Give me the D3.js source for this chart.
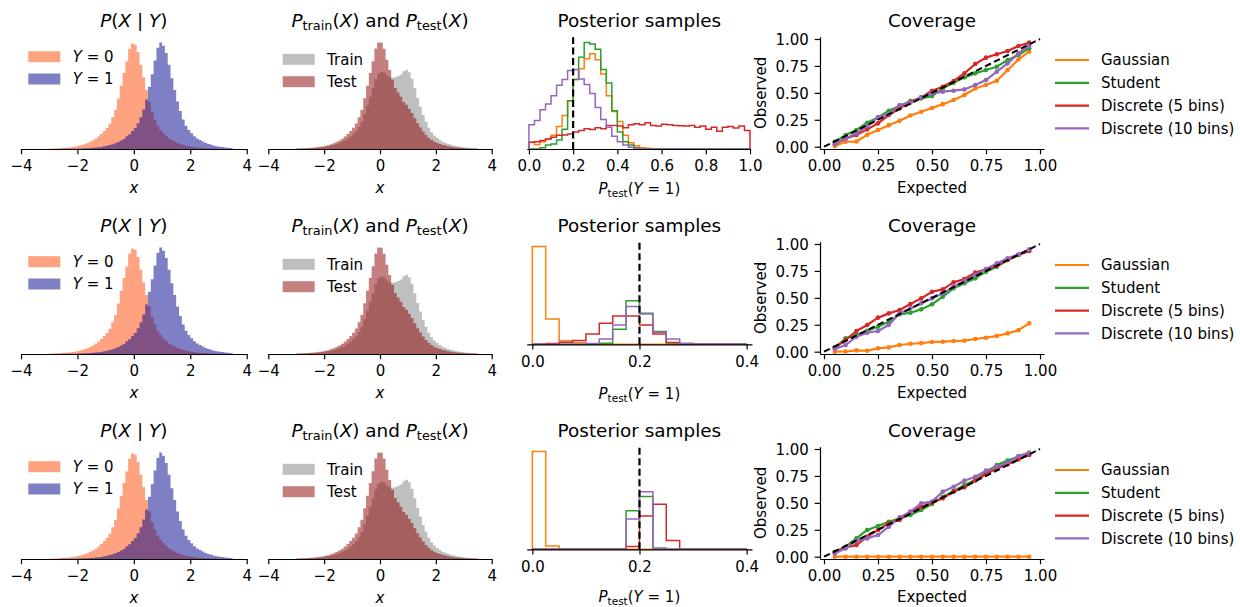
<!DOCTYPE html>
<html>
<head>
<meta charset="utf-8">
<script src="https://cdn.jsdelivr.net/npm/d3@7"></script>
<style>
  body { margin: 0; background: #fff; }
  text { font-family: 'DejaVu Sans', sans-serif; fill: #000; white-space: pre; }
</style>
</head>
<body>
<svg id="fig" width="1240" height="607"></svg>
<script>
// ---------------- data ----------------
// Feature histograms: bins of width 0.1 starting at x = -3.0 (heights relative to the tallest bar)
const featureBinStart = -3.0;
const featureBinWidth = 0.1;
const densityY0 = [
  0.004,0.005,0.006,0.008,0.009,0.011,0.013,0.016,0.020,0.024,
  0.030,0.036,0.044,0.055,0.066,0.080,0.097,0.118,0.142,0.170,
  0.20,0.24,0.30,0.37,0.48,0.60,0.72,0.83,0.95,1.00,
  0.99,0.92,0.80,0.68,0.56,0.45,0.35,0.28,0.22,0.18,
  0.15,0.125,0.10,0.085,0.07,0.058,0.048,0.04,0.033,0.027,
  0.022,0.018,0.015,0.012,0.010,0.008,0.006,0.005,0.004,0.003,
  0.002,0.002,0.001,0.001,0.001];
const densityY1 = [
  0.001,0.001,0.001,0.001,0.002,0.002,0.002,0.002,0.003,0.003,
  0.004,0.005,0.006,0.007,0.009,0.011,0.014,0.016,0.020,0.025,
  0.031,0.037,0.045,0.054,0.067,0.081,0.096,0.12,0.14,0.17,
  0.20,0.245,0.30,0.375,0.47,0.59,0.71,0.84,0.96,1.01,
  0.98,0.91,0.80,0.67,0.56,0.45,0.36,0.28,0.22,0.18,
  0.15,0.12,0.10,0.085,0.07,0.057,0.047,0.04,0.032,0.027,
  0.022,0.018,0.014,0.012,0.010];
const densityTrain = [
  0.003,0.004,0.004,0.005,0.007,0.008,0.009,0.011,0.014,0.016,
  0.020,0.025,0.030,0.037,0.045,0.055,0.067,0.080,0.097,0.117,
  0.139,0.166,0.207,0.254,0.328,0.409,0.490,0.570,0.654,0.71,
  0.725,0.72,0.69,0.675,0.67,0.675,0.685,0.70,0.73,0.745,
  0.72,0.66,0.57,0.48,0.40,0.32,0.255,0.20,0.158,0.127,
  0.104,0.084,0.069,0.058,0.048,0.039,0.032,0.027,0.022,0.018,
  0.014,0.012,0.009,0.008,0.007];
const densityTest = [
  0.004,0.005,0.006,0.008,0.009,0.011,0.013,0.016,0.020,0.024,
  0.030,0.036,0.044,0.054,0.066,0.079,0.096,0.117,0.141,0.169,
  0.199,0.239,0.299,0.368,0.476,0.595,0.714,0.825,0.945,1.00,
  0.997,0.941,0.839,0.742,0.650,0.573,0.53,0.49,0.441,0.415,
  0.379,0.338,0.288,0.242,0.201,0.164,0.132,0.105,0.084,0.069,
  0.057,0.046,0.038,0.032,0.027,0.021,0.017,0.014,0.012,0.009,
  0.007,0.006,0.004,0.004,0.003];

// Posterior samples of P_test(Y=1): density per bin of width 0.025 starting at 0
const posteriorBinWidth = 0.025;
const trueShare = 0.2;
// row 1
const postGaussian1 = [0.35,0.24,0.38,0.52,0.73,1.18,1.76,2.54,3.66,4.23,4.75,5.01,4.70,3.95,2.80,1.97,1.45,0.73,0.33,0.17,0.07,0.04];
const postStudent1 = [0,0,0.07,0.21,0.26,0.47,1.04,2.54,3.66,4.83,5.60,5.53,5.25,4.18,3.47,2.02,0.90,0.38,0.21,0.07];
const postDiscrete5_1 = [0.35,0.38,0.45,0.52,0.62,0.73,0.74,0.79,0.90,0.98,1.07,1.02,1.12,1.07,1.24,1.24,1.21,1.12,1.28,1.33,
  1.28,1.38,1.24,1.21,1.30,1.28,1.24,1.23,1.21,1.24,1.14,1.21,1.04,1.14,0.93,1.14,1.19,1.10,1.21,0.98];
const postDiscrete10_1 = [1.28,1.50,2.07,2.37,2.80,3.35,3.66,4.13,4.18,3.69,3.40,2.92,2.19,1.55,1.14,0.67,0.38,0.21,0.09,0.02];
// row 2
const postGaussian2 = [32.6,8.4,1.2,0.6,0.2];
const postStudent2 = [0,0,0,0,0,0.33,5.0,14.57,10.33,4.23,0.43];
const postDiscrete5_2 = [0,0.23,0.67,1.23,3.43,7.0,9.43,9.43,6.43,3.43,0.57,0.23];
const postDiscrete10_2 = [0,0,0,0,0.23,1.77,6.43,12.57,10.1,4.0,1.77,0.23];
// row 3
const postGaussian3 = [32.6,1.1];
const postStudent3 = [0,0,0,0,0,0,0,12.9,17.6,0.33];
const postDiscrete5_3 = [0,0,0,0,0,0,0,0.9,11.1,15.0,2.9];
const postDiscrete10_3 = [0,0,0,0,0,0,0,10.1,19.2,0.33];

// Coverage: observed vs expected credible level
const expectedLevels = [0.05,0.10,0.15,0.20,0.25,0.30,0.35,0.40,0.45,0.50,0.55,0.60,0.65,0.70,0.75,0.80,0.85,0.90,0.95];
const covGaussian = [
  [0.006,0.046,0.048,0.11,0.155,0.20,0.24,0.29,0.325,0.36,0.395,0.433,0.48,0.54,0.573,0.613,0.712,0.81,0.882],
  [0.0,0.002,0.012,0.009,0.031,0.04,0.062,0.074,0.08,0.09,0.093,0.099,0.102,0.118,0.13,0.146,0.17,0.20,0.263],
  [0,0,0,0,0,0,0,0,0,0,0,0,0,0,0,0,0,0,0]];
const covStudent = [
  [0.046,0.108,0.155,0.223,0.272,0.334,0.378,0.424,0.449,0.47,0.542,0.594,0.644,0.681,0.712,0.743,0.805,0.851,0.913],
  [0.037,0.124,0.155,0.195,0.232,0.279,0.347,0.362,0.393,0.44,0.511,0.588,0.635,0.681,0.743,0.789,0.851,0.898,0.935],
  [0.046,0.093,0.17,0.248,0.285,0.325,0.356,0.387,0.433,0.489,0.557,0.61,0.666,0.712,0.78,0.851,0.892,0.929,0.96]];
const covDiscrete5 = [
  [0.025,0.077,0.108,0.161,0.217,0.294,0.356,0.418,0.458,0.52,0.557,0.61,0.681,0.768,0.827,0.858,0.889,0.935,0.966],
  [0.037,0.108,0.192,0.248,0.316,0.356,0.387,0.443,0.495,0.557,0.579,0.644,0.675,0.734,0.765,0.796,0.851,0.898,0.935],
  [0.037,0.087,0.108,0.186,0.248,0.31,0.341,0.418,0.464,0.502,0.542,0.604,0.644,0.706,0.765,0.82,0.858,0.904,0.944]];
const covDiscrete10 = [
  [0.025,0.077,0.124,0.192,0.272,0.303,0.387,0.409,0.458,0.495,0.511,0.52,0.532,0.573,0.619,0.697,0.774,0.867,0.935],
  [0.025,0.062,0.139,0.176,0.192,0.248,0.356,0.402,0.449,0.495,0.542,0.604,0.656,0.712,0.768,0.82,0.867,0.904,0.95],
  [0.031,0.077,0.149,0.17,0.201,0.279,0.365,0.418,0.495,0.511,0.604,0.65,0.706,0.743,0.799,0.836,0.873,0.935,0.966]];

const methodNames = ["Gaussian", "Student", "Discrete (5 bins)", "Discrete (10 bins)"];
const methodColors = ["#ff7f0e", "#2ca02c", "#d62728", "#9467bd"];
const featureTicks = [-4, -2, 0, 2, 4];
const posteriorTicksWide = [0, 0.2, 0.4, 0.6, 0.8, 1.0];
const posteriorTicksNarrow = [0, 0.2, 0.4];
const coverageTicks = [0, 0.25, 0.5, 0.75, 1.0];

// ---------------- drawing ----------------
const svg = d3.select("#fig");
const TICK_FS = 15, LABEL_FS = 15, TITLE_FS = 18.4, LEGEND_FS = 15;
const SPINE_W = 1.2, TICK_LEN = 5.3;
const rowOffsets = [0, 205, 410];

function richText(g, x, y, parts, fs, anchor) {
  const t = g.append("text").attr("x", x).attr("y", y)
    .attr("font-size", fs).attr("text-anchor", anchor || "middle");
  let shift = 0;
  parts.forEach(p => {
    const ts = t.append("tspan").text(p.t);
    if (p.it) ts.attr("font-style", "italic");
    const target = p.sub ? fs * 0.2 : 0;
    if (target !== shift) { ts.attr("dy", target - shift); shift = target; }
    if (p.sub) ts.attr("font-size", fs * 0.7);
  });
  return t;
}

function styleAxis(g, labelY) {
  g.attr("font-family", null).attr("font-size", null);
  g.select(".domain").attr("stroke-width", SPINE_W).attr("stroke", "#000");
  g.selectAll(".tick line").attr("stroke-width", SPINE_W).attr("stroke", "#000");
  g.selectAll(".tick text").attr("font-size", TICK_FS).attr("fill", "#000");
  if (labelY !== undefined) g.selectAll(".tick text").attr("dy", null).attr("y", labelY);
}

function stepPoints(start, width, vals, n) {
  const v = d3.range(n).map(i => vals[i] || 0);
  const pts = [[start, 0]];
  v.forEach((d, i) => pts.push([start + i * width, d]));
  pts.push([start + n * width, v[n - 1]]);
  pts.push([start + n * width, 0]);
  return pts;
}

function filledHist(g, x, y, vals, fill) {
  const pts = stepPoints(featureBinStart, featureBinWidth, vals, vals.length);
  g.append("path")
    .attr("d", d3.area().x(d => x(d[0])).y0(y(0)).y1(d => y(d[1])).curve(d3.curveStepAfter)(pts))
    .attr("fill", fill).attr("stroke", "none");
}

function featurePanel(g, x0, x1, base, seriesA, seriesB, colA, colB, title, legendA, legendB, legendCy, legendX) {
  const x = d3.scaleLinear().domain([-4, 4]).range([x0, x1]);
  const maxV = d3.max([...seriesA, ...seriesB]);
  const y = d3.scaleLinear().domain([0, maxV * 1.05]).range([base, base - 111.8]);
  filledHist(g, x, y, seriesA, colA);
  filledHist(g, x, y, seriesB, colB);
  const ax = g.append("g").attr("transform", `translate(0,${base})`)
    .call(d3.axisBottom(x).tickValues(featureTicks).tickFormat(d3.format("d")).tickSizeInner(TICK_LEN).tickSizeOuter(0));
  styleAxis(ax, 21.7);
  const cx = (x0 + x1) / 2;
  richText(g, cx, base + 43.7, [{t: "x", it: true}], LABEL_FS);
  richText(g, cx, base - 122.3, title, TITLE_FS);
  // legend: colour patch then label
  [[colA, legendA], [colB, legendB]].forEach(([c, lab], i) => {
    const cy = legendCy[i];
    g.append("rect").attr("x", legendX).attr("y", cy - 5.5).attr("width", 32).attr("height", 11).attr("fill", c);
    richText(g, legendX + 44.4, cy + 5.4, lab, LEGEND_FS, "start");
  });
}

function posteriorPanel(g, r, base, top, series) {
  const wide = r === 0;
  const x = d3.scaleLinear().domain(wide ? [-0.01, 1.0] : [-0.0105, 0.41]).range(wide ? [526.7, 750] : [526.7, 752]);
  const nBins = wide ? 40 : 16;
  const maxV = d3.max(series.flat());
  const y = d3.scaleLinear().domain([0, maxV * 1.05]).range([base, top]);
  const line = d3.line().x(d => x(d[0])).y(d => y(d[1])).curve(d3.curveStepAfter);
  series.forEach((vals, i) => {
    g.append("path").attr("d", line(stepPoints(0, posteriorBinWidth, vals, nBins)))
      .attr("fill", "none").attr("stroke", methodColors[i]).attr("stroke-width", 1.5)
      .attr("stroke-linejoin", "miter");
  });
  g.append("line").attr("x1", x(trueShare)).attr("x2", x(trueShare)).attr("y1", y(0)).attr("y2", y(maxV * 1.05))
    .attr("stroke", "#000").attr("stroke-width", 2.2).attr("stroke-dasharray", "7,3.5");
  const ax = g.append("g").attr("transform", `translate(0,${base})`)
    .call(d3.axisBottom(x).tickValues(wide ? posteriorTicksWide : posteriorTicksNarrow)
      .tickFormat(d3.format(".1f")).tickSizeInner(TICK_LEN).tickSizeOuter(0));
  styleAxis(ax, wide ? 21.7 : 23);
  const cx = 639.4;
  const off = rowOffsets[r];
  richText(g, cx, 193.5 + off - (r === 2 ? 1.5 : 0),
    [{t: "P", it: true}, {t: "test", sub: true}, {t: "("}, {t: "Y", it: true}, {t: " = 1)"}], LABEL_FS);
  richText(g, cx, 27 + off, [{t: "Posterior samples"}], TITLE_FS);
}

function coveragePanel(g, r, series) {
  const off = rowOffsets[r];
  const x = d3.scaleLinear().domain([-0.0185, 1.0185]).range([820, 1044]);
  const y = d3.scaleLinear().domain([-0.0214, 1.0214]).range([149 + off, 36.7 + off]);
  const line = d3.line().x(d => x(d[0])).y(d => y(d[1]));
  series.forEach((vals, i) => {
    const pts = expectedLevels.map((e, k) => [e, vals[k]]);
    g.append("path").attr("d", line(pts)).attr("fill", "none")
      .attr("stroke", methodColors[i]).attr("stroke-width", 2.2).attr("stroke-linejoin", "round");
    g.selectAll(null).data(pts).enter().append("circle")
      .attr("cx", d => x(d[0])).attr("cy", d => y(d[1])).attr("r", 2.3).attr("fill", methodColors[i]);
  });
  g.append("path").attr("d", line([[0, 0], [1, 1]])).attr("fill", "none")
    .attr("stroke", "#000").attr("stroke-width", 2).attr("stroke-dasharray", "6.5,3.5");
  const axX = g.append("g").attr("transform", `translate(0,${149 + off})`)
    .call(d3.axisBottom(x).tickValues(coverageTicks).tickFormat(d3.format(".2f")).tickSizeInner(TICK_LEN).tickSizeOuter(0));
  styleAxis(axX, 21.7);
  const axY = g.append("g").attr("transform", "translate(820,0)")
    .call(d3.axisLeft(y).tickValues(coverageTicks).tickFormat(d3.format(".2f")).tickSizeInner(TICK_LEN).tickPadding(5.8).tickSizeOuter(0));
  styleAxis(axY);
  axY.selectAll(".tick text").attr("dy", "0.36em");
  richText(g, 932, 193.3 + off - (r === 2 ? 1 : 0), [{t: "Expected"}], LABEL_FS);
  g.append("text").attr("transform", `translate(766,${92.9 + off}) rotate(-90)`)
    .attr("text-anchor", "middle").attr("font-size", LABEL_FS).text("Observed");
  richText(g, 932, 27 + off, [{t: "Coverage"}], TITLE_FS);
  // legend
  methodNames.forEach((name, i) => {
    const cy = 60 + off + i * 22.8;
    g.append("line").attr("x1", 1055).attr("x2", 1089).attr("y1", cy).attr("y2", cy)
      .attr("stroke", methodColors[i]).attr("stroke-width", 2.2);
    g.append("text").attr("x", 1101).attr("y", cy + 5.4).attr("font-size", LEGEND_FS).text(name);
  });
}

const colY0 = "rgba(255,69,0,0.5)", colY1 = "rgba(0,0,139,0.5)";
const colTrain = "rgba(128,128,128,0.5)", colTest = "rgba(139,0,0,0.5)";

const postRows = [
  [postGaussian1, postStudent1, postDiscrete5_1, postDiscrete10_1],
  [postGaussian2, postStudent2, postDiscrete5_2, postDiscrete10_2],
  [postGaussian3, postStudent3, postDiscrete5_3, postDiscrete10_3]];
const covRows = [0, 1, 2].map(r => [covGaussian[r], covStudent[r], covDiscrete5[r], covDiscrete10[r]]);

rowOffsets.forEach((off, r) => {
  const g = svg.append("g");
  const base = 149 + off;
  featurePanel(g, 21, 246.7, base, densityY0, densityY1, colY0, colY1,
    [{t: "P", it: true}, {t: "("}, {t: "X", it: true}, {t: " | "}, {t: "Y", it: true}, {t: ")"}],
    [{t: "Y", it: true}, {t: " = 0"}], [{t: "Y", it: true}, {t: " = 1"}],
    [56.7 + off, 79 + off], 28.3);
  featurePanel(g, 268.3, 491.7, base, densityTrain, densityTest, colTrain, colTest,
    [{t: "P", it: true}, {t: "train", sub: true}, {t: "("}, {t: "X", it: true}, {t: ") and "},
     {t: "P", it: true}, {t: "test", sub: true}, {t: "("}, {t: "X", it: true}, {t: ")"}],
    [{t: "Train"}], [{t: "Test"}],
    [59.3 + off, 81.7 + off], 282.7);
  const pBase = r === 0 ? 149 : 149 + off - 9.7;
  const pTop = r === 0 ? 37.3 : pBase - 102.6;
  posteriorPanel(g, r, pBase, pTop, postRows[r]);
  coveragePanel(g, r, covRows[r]);
});
</script>
</body>
</html>
